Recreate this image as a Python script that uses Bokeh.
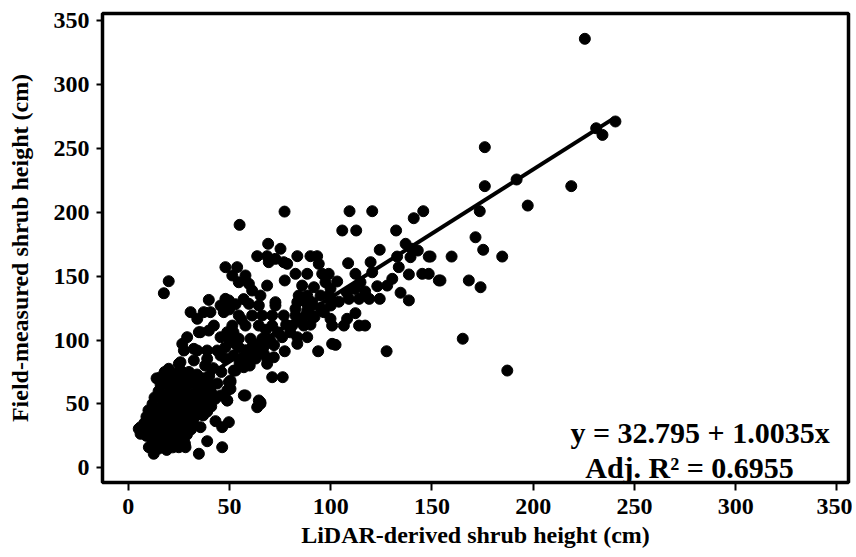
from bokeh.plotting import figure
from bokeh.models import Range1d, FixedTicker, Label
from bokeh.embed import file_html
from bokeh.resources import INLINE

# ---- data ----
lidar_h = [
    225.5, 240.6, 231.1, 234.2, 176.1, 176.1, 191.8, 218.8, 197.3, 173.6, 171.5, 175.3, 184.7, 159.7, 149.3,
    154.2, 168.2, 174.0, 165.2, 187.2,
    109.3, 120.5, 145.7, 141.0, 105.7, 112.6, 132.3, 137.0, 140.2, 124.2, 143.0, 148.4, 132.8, 139.4, 108.6,
    119.7, 133.6, 112.2, 120.5, 138.6, 145.2, 148.4, 153.4, 103.2, 114.7, 130.4, 127.9, 123.0, 134.5, 99.9,
    99.9, 109.0, 114.0, 119.0, 124.2, 138.6,
    99.9, 108.1, 112.2, 106.5, 100.7, 114.0, 117.0, 102.4, 127.6,
    77.2, 55.0, 69.1, 75.2, 63.7, 68.6, 72.7, 76.8, 83.5, 90.0, 93.3, 94.1, 69.4, 78.5, 48.0, 53.8, 51.4, 57.9,
    82.6, 88.4, 95.8, 99.0, 54.6, 59.6, 77.3, 85.9, 91.7, 97.4, 68.6, 61.2, 65.3, 84.2, 88.4, 95.0, 99.0, 48.0,
    72.7, 83.5, 87.6, 90.9,
    59.6, 64.5, 72.7, 82.6, 88.4, 96.6, 54.6, 61.2, 66.2, 71.1, 76.8, 82.6, 87.6, 90.9, 51.4, 57.9, 64.5, 71.1,
    81.0, 86.7, 76.0, 83.5, 88.4, 83.5, 49.7, 54.6, 60.4, 66.2, 48.0, 54.6, 61.2, 66.2, 77.3, 93.8, 100.7,
    48.0, 56.3, 62.9, 68.6, 52.1, 57.1, 71.1, 76.3, 49.7, 48.9, 57.1, 64.5, 65.3, 48.9, 53.0, 57.0, 50.0, 52.0, 56.0,
    20.0, 17.6, 39.8, 30.8, 34.1, 37.3, 40.6, 45.6, 47.2, 49.7, 26.7, 29.1, 32.4, 34.9, 25.8, 20.0, 16.0, 17.6,
    23.4, 16.0, 39.8, 35.7, 39.0, 34.9, 25.0, 28.3, 12.6, 10.2, 6.1, 6.1, 46.4, 43.1, 46.4, 49.7, 45.6, 48.9,
    57.9, 63.7, 65.3, 50.5, 50.5, 35.7, 39.8, 42.3, 45.6, 48.9, 27.5, 34.1, 39.0, 44.0, 20.0, 25.0, 32.4, 39.0,
    45.6, 5.2,
    18, 22, 26, 30, 34, 14, 19, 24, 28, 33, 37, 16, 21, 25, 29, 34, 40, 15, 20, 24, 28, 32, 36, 41,
    13, 18, 22, 27, 31, 35, 43, 12, 17, 21, 25, 30, 34, 37, 41, 10, 14, 19, 23, 27, 31, 35, 39,
    9, 13, 17, 21, 25, 29, 33, 37, 8, 12, 16, 20, 24, 28, 32, 7, 11, 15, 19, 23, 27, 31,
    9, 13, 17, 21, 25, 29, 12, 16, 20, 24, 28, 15, 19, 22,
    36, 40, 42, 44, 38, 46, 35, 41,
    52, 55, 58, 60, 62, 53, 59, 63, 67, 70, 72, 68, 74, 78, 80, 85, 90, 92, 95, 100, 104, 108, 112, 117,
    68.6, 71.9, 67.0, 53.0, 50.5,
]
field_h = [
    335.7, 271.0, 265.7, 260.5, 250.9, 220.4, 225.6, 220.4, 205.2, 200.8, 180.4, 170.6, 165.3, 165.3, 165.3,
    146.6, 146.6, 141.3, 101.0, 76.1,
    200.8, 200.8, 200.8, 195.3, 185.7, 185.7, 185.7, 175.3, 171.4, 170.6, 170.0, 165.3, 165.3, 164.8, 160.1,
    160.9, 157.0, 151.8, 153.0, 151.3, 151.8, 151.8, 146.6, 145.8, 145.2, 147.9, 142.6, 142.1, 137.0, 140.3,
    132.5, 132.2, 132.2, 132.2, 132.2, 131.0,
    116.6, 116.6, 121.0, 111.3, 111.3, 111.3, 111.3, 96.2, 91.2,
    200.5, 190.1, 175.3, 171.4, 165.6, 165.6, 163.5, 160.9, 165.6, 165.6, 165.6, 159.6, 160.9, 159.6, 157.0,
    157.0, 150.5, 150.5, 151.8, 151.8, 151.8, 151.8, 145.2, 144.0, 146.6, 142.6, 141.3, 145.2, 142.6, 138.7,
    134.8, 134.8, 134.8, 134.8, 134.8, 132.2, 129.6, 129.6, 129.6, 129.6,
    128.3, 127.0, 127.0, 124.4, 123.1, 121.8, 119.2, 119.2, 119.2, 119.2, 119.2, 119.2, 119.2, 119.2, 111.3,
    111.3, 111.3, 111.3, 111.3, 111.3, 102.2, 102.2, 102.2, 97.0, 101.0, 101.0, 101.0, 101.0, 94.4, 94.4, 94.4,
    94.4, 91.2, 91.2, 97.0, 85.5, 85.5, 85.5, 85.5, 76.1, 78.7, 70.9, 70.9, 67.0, 60.5, 56.6, 52.7, 50.1, 52.7,
    128.0, 132.0, 124.0, 106.0, 116.0,
    146.0, 136.6, 131.4, 121.8, 116.6, 121.8, 121.8, 127.0, 121.8, 131.0, 97.0, 102.2, 93.1, 106.1, 82.6, 76.1,
    70.9, 65.7, 70.9, 55.2, 55.8, 31.8, 20.8, 11.0, 16.1, 16.1, 11.0, 16.1, 31.8, 26.6, 16.1, 36.5, 31.8, 35.7,
    56.6, 52.7, 56.6, 47.4, 51.3, 67.0, 61.8, 106.1, 107.4, 111.3, 102.2, 106.1, 91.8, 91.8, 91.8, 91.8, 77.5,
    81.4, 84.0, 85.3, 87.9, 30.5,
    75, 74, 76, 75, 73, 70, 69, 71, 70, 69, 70, 65, 64, 66, 65, 64, 65, 60, 59, 61, 60, 58, 60, 59,
    55, 54, 56, 55, 54, 56, 54, 50, 49, 51, 50, 49, 51, 50, 48, 45, 44, 46, 45, 44, 46, 45, 44,
    40, 39, 41, 40, 39, 41, 40, 41, 35, 34, 36, 35, 34, 36, 35, 30, 29, 31, 30, 29, 31, 30,
    25, 24, 26, 25, 24, 26, 20, 19, 21, 20, 19, 15, 14, 16,
    68, 72, 78, 66, 80, 75, 62, 64,
    88, 82, 92, 80, 97, 97, 86, 90, 95, 100, 96, 108, 106, 112, 106, 115, 112, 118, 125, 127, 130, 137, 140, 138,
    81.4, 86.5, 89.2, 76.1, 68.3,
]

fit_intercept = 32.795
fit_slope = 1.0035
fit_x = [8, 240]
fit_y = [fit_intercept + fit_slope * v for v in fit_x]

axis_ticks = [0, 50, 100, 150, 200, 250, 300, 350]
x_title = "LiDAR-derived shrub height (cm)"
y_title = "Field-measured shrub height (cm)"
eq_text = "y = 32.795 + 1.0035x"
r2_text = "Adj. R\u00b2 = 0.6955"

FONT = "Liberation Serif"

p = figure(width=852, height=557, output_backend="svg", toolbar_location=None,
           x_range=Range1d(-12.7, 355.7), y_range=Range1d(-11.5, 355.5),
           min_border_left=102, min_border_right=4, min_border_top=13, min_border_bottom=75)
p.background_fill_color = "white"
p.border_fill_color = "white"
p.outline_line_color = "black"
p.outline_line_width = 3.5
p.grid.visible = False

for ax in (p.xaxis[0], p.yaxis[0]):
    ax.ticker = FixedTicker(ticks=axis_ticks)
    ax.axis_line_color = None
    ax.major_tick_line_color = "black"
    ax.major_tick_line_width = 2
    ax.major_tick_in = 0
    ax.minor_tick_line_color = None
    ax.major_label_text_font = FONT
    ax.major_label_text_font_style = "bold"
    ax.major_label_text_font_size = "24px"
    ax.major_label_text_color = "black"
    ax.axis_label_text_font = FONT
    ax.axis_label_text_font_style = "bold"
    ax.axis_label_text_font_size = "24px"
    ax.axis_label_text_color = "black"

p.xaxis.axis_label = x_title
p.yaxis.axis_label = y_title
p.xaxis.major_tick_out = 8
p.xaxis.major_label_standoff = 8
p.xaxis.axis_label_standoff = 5
p.yaxis.major_tick_out = 6
p.yaxis.major_label_standoff = 7
p.yaxis.axis_label_standoff = 18

p.scatter(lidar_h, field_h, size=11, color="black")
p.line(fit_x, fit_y, line_width=4, line_color="black")

p.add_layout(Label(x=282.4, y=27.9, text=eq_text, text_align="center", text_baseline="alphabetic",
                   text_font=FONT, text_font_style="bold", text_font_size="30px", text_color="black"))
p.add_layout(Label(x=277.2, y=0.5, text=r2_text, text_align="center", text_baseline="alphabetic",
                   text_font=FONT, text_font_style="bold", text_font_size="30px", text_color="black"))

open("out.html", "w").write(file_html(p, INLINE))
